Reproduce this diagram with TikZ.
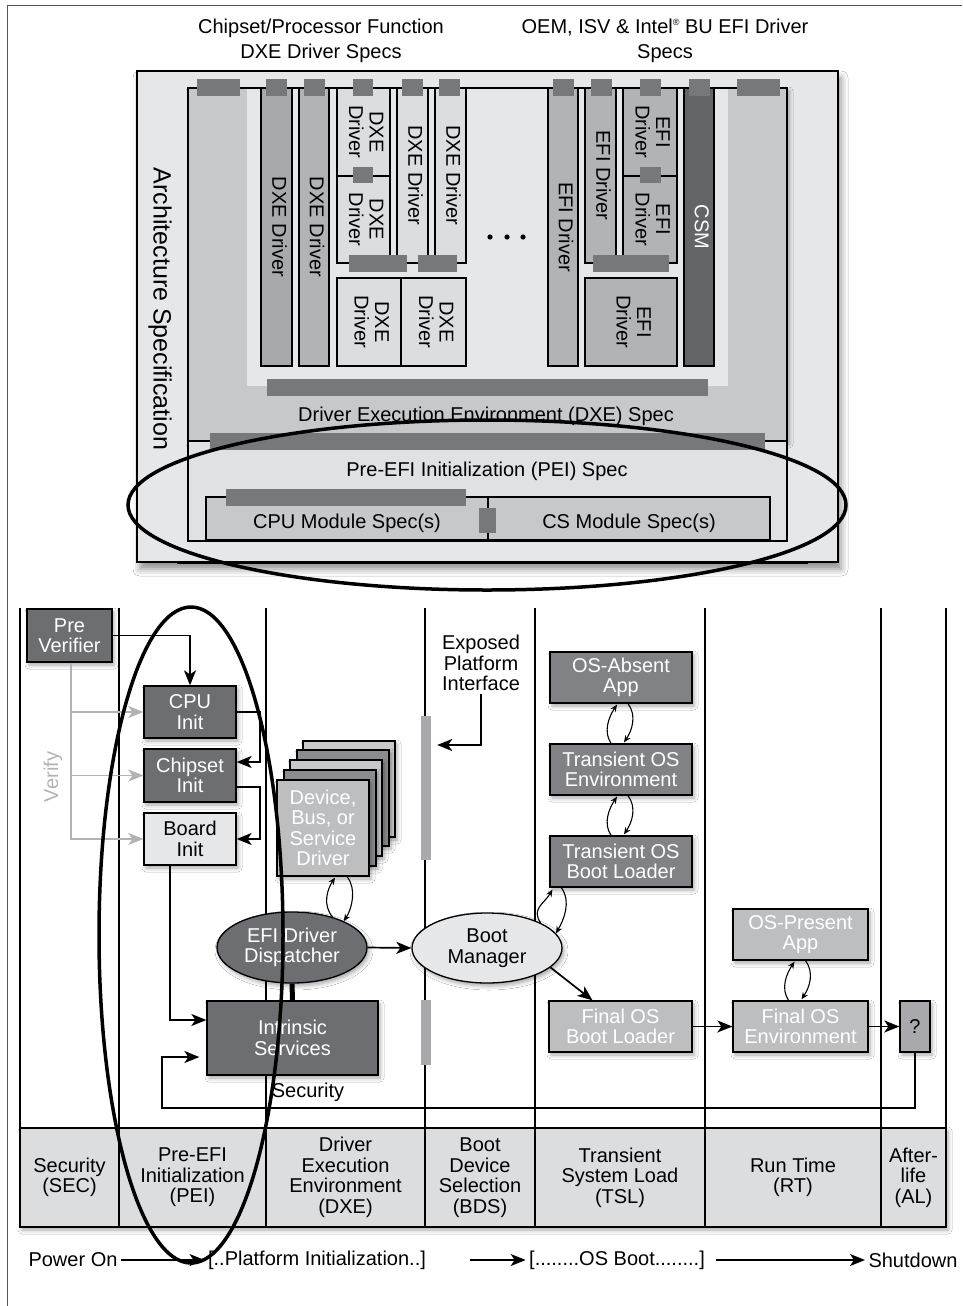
\documentclass[tikz,border=0pt]{standalone}
\usepackage{fontspec}
\setmainfont{Liberation Sans}
\usepackage{graphicx}
\usetikzlibrary{arrows.meta,shapes.geometric,calc,shadows.blur}
\definecolor{archbg}{HTML}{E6E7E8}
\definecolor{dxebg}{HTML}{C7C8CA}
\definecolor{peibg}{HTML}{E0E1E2}
\definecolor{bus}{HTML}{77787B}
\definecolor{gA}{HTML}{A7A9AC}
\definecolor{gB}{HTML}{B1B3B6}
\definecolor{gL}{HTML}{DCDDDF}
\definecolor{csmc}{HTML}{636466}
\definecolor{dk}{HTML}{6D6E71}
\definecolor{md}{HTML}{808285}
\definecolor{lt}{HTML}{BCBEC0}
\definecolor{stk}{HTML}{8A8C8E}
\definecolor{vgrey}{HTML}{B1B3B6}
\definecolor{framec}{HTML}{555555}
\newcommand\fs{\fontsize{20}{20.5}\selectfont}
\newcommand\fsbig{\fontsize{25}{28}\selectfont}
\newcommand\fscap{\fontsize{20}{25}\selectfont}
\newcommand\vt[1]{\rotatebox{-90}{\begin{tabular}{@{}c@{}}#1\end{tabular}}}
\newcommand\rbox[7]{%
  \pgfmathsetmacro\rbX{(#2+#4)/2}%
  \pgfmathsetmacro\rbY{(#3+#5)/2}%
  \pgfmathsetmacro\rbW{#4-#2}%
  \pgfmathsetmacro\rbH{#5-#3}%
  \node[inner sep=0pt, minimum width=\rbW pt, minimum height=\rbH pt, #6] (#1) at (\rbX,\rbY) {#7};%
}
\tikzset{
  shd/.style={blur shadow={shadow xshift=2pt, shadow yshift=-3pt, shadow blur radius=4pt, shadow opacity=35}},
  sbox/.style={draw=black, line width=1.2pt},
  nd/.style={draw=black, line width=1.3pt, align=center, shd},
  dark/.style={nd, fill=dk, text=white},
  mid/.style={nd, fill=md, text=white},
  light/.style={nd, fill=lt, text=white},
  pale/.style={nd, fill=archbg},
  arr/.style={line width=1.7pt, -{Stealth[length=15pt, width=12pt, inset=4pt]}},
  varr/.style={arr, draw=vgrey, -{Stealth[length=15pt, width=12pt, inset=4pt, fill=vgrey]}},
  sarr/.style={line width=1.1pt, -{Stealth[length=7pt, width=6pt]}},
  busbar/.style={fill=bus},
  col/.style={line width=1.8pt},
  ring/.style={line width=3.5pt}
}
\begin{document}
\begin{tikzpicture}[x=1pt, y=-1pt, every node/.style={font=\fs}]
\useasboundingbox (0,0) rectangle (962,1306);
\fill[white] (0,0) rectangle (962,1306);
% frame
\draw[line width=1pt, framec] (7,1306) -- (7,6) -- (962,6);

% ---------------- top: specification stack ----------------
\node[align=center, font=\fscap] (cap1) at (321,40.5) {Chipset/Processor Function\\DXE Driver Specs};
\node[align=center, font=\fscap] (cap2) at (665,40.5) {OEM, ISV \& Intel\raisebox{0.7ex}{\fontsize{9}{9}\selectfont ®} BU EFI Driver\\Specs};

\rbox{arch}{137}{71}{838}{562}{sbox, fill=archbg, blur shadow={shadow xshift=3pt, shadow yshift=-7pt, shadow blur radius=7pt, shadow opacity=45}}{}
\draw[line width=2.2pt] ($(arch.south west)+(41,0)$) -- ($(arch.south east)+(-31,0)$);
\node[rotate=-90, font=\fsbig] (archtxt) at (160,309) {Architecture Specification};

\rbox{dxe}{188}{88}{787}{441}{sbox, fill=dxebg, shd}{}
\fill[archbg] (247,88.7) rectangle (728,386);
\node (dxetxt) at (486,416) {Driver Execution Environment (DXE) Spec};
\rbox{pei}{188}{441}{787}{541}{sbox, fill=peibg}{}
\node (peitxt) at (487,471) {Pre-EFI Initialization (PEI) Spec};
\rbox{cpum}{206}{497}{488}{540}{sbox, fill=dxebg}{\raisebox{-9.5pt}[0pt][0pt]{CPU Module Spec(s)}}
\rbox{csmod}{488}{497}{770}{540}{sbox, fill=dxebg}{\raisebox{-9.5pt}[0pt][0pt]{CS Module Spec(s)}}

% drivers
\rbox{d1}{261}{88}{292}{366}{sbox, fill=gA}{\vt{DXE Driver}}
\rbox{d2}{299}{88}{329}{366}{sbox, fill=gB}{\vt{DXE Driver}}
\rbox{gD}{337}{88}{466}{263}{sbox, fill=archbg}{}
\rbox{d3a}{337}{88}{390}{176}{sbox, fill=gL}{\vt{DXE\\Driver}}
\rbox{d3b}{337}{176}{390}{263}{sbox, fill=gL}{\vt{DXE\\Driver}}
\rbox{d4}{397}{88}{428}{263}{sbox, fill=gL}{\vt{DXE Driver}}
\rbox{d5}{435}{88}{466}{263}{sbox, fill=gL}{\vt{DXE Driver}}
\rbox{d6}{337}{278}{401}{366}{sbox, fill=gL}{\vt{DXE\\Driver}}
\rbox{d7}{401}{278}{466}{366}{sbox, fill=gL}{\vt{DXE\\Driver}}
\rbox{e1}{548}{88}{578}{366}{sbox, fill=gB}{\vt{EFI Driver}}
\rbox{gE}{585}{88}{677}{263}{sbox, fill=archbg}{}
\rbox{e2}{585}{88}{616}{263}{sbox, fill=gB}{\vt{EFI Driver}}
\rbox{e3a}{623}{88}{677}{176}{sbox, fill=gB}{\vt{EFI\\Driver}}
\rbox{e3b}{623}{176}{677}{263}{sbox, fill=gB}{\vt{EFI\\Driver}}
\rbox{e4}{585}{278}{677}{366}{sbox, fill=gB}{\vt{EFI\\Driver}}
\rbox{csm}{684}{88}{714}{366}{sbox, fill=csmc, text=white}{\vt{CSM}}
\fill (490,237) circle (2.6pt) (507,237) circle (2.6pt) (523,237) circle (2.6pt);

% bus connectors
\foreach \a/\b in {197/240,266/287,304/325,353/373,402/423,439/460,553/574,591/612,640/661,689/710,737/780}
  \fill[busbar] (\a,79) rectangle (\b,96);
\foreach \a/\b in {353/373,640/661}
  \fill[busbar] (\a,167) rectangle (\b,183);
\foreach \a/\b in {349/407,418/457,593/669}
  \fill[busbar] (\a,255) rectangle (\b,272);
\fill[busbar] (267,379) rectangle (708,396);
\fill[busbar] (210,433) rectangle (765,450);
\fill[busbar] (226,489) rectangle (466,506);
\fill[busbar] (479,508) rectangle (496,533);

% ---------------- bottom: boot phases ----------------
\foreach \x in {20,119,266,425,535,705,881,946}
  \draw[col] (\x,608) -- (\x,1128);
\rbox{bdsbar}{421}{716}{431}{860}{fill=gA}{}
\rbox{bdsbar2}{421}{1000}{431}{1065}{fill=gA}{}

% phase row
\rbox{row}{20}{1128}{946}{1227}{shd, fill=gL}{}
\rbox{p1}{20}{1128}{119}{1227}{sbox, fill=gL, align=center}{Security\\(SEC)}
\rbox{p2}{119}{1128}{266}{1227}{sbox, fill=gL, align=center}{Pre-EFI\\Initialization\\(PEI)}
\rbox{p3}{266}{1128}{425}{1227}{sbox, fill=gL, align=center}{Driver\\Execution\\Environment\\(DXE)}
\rbox{p4}{425}{1128}{535}{1227}{sbox, fill=gL, align=center}{Boot\\Device\\Selection\\(BDS)}
\rbox{p5}{535}{1128}{705}{1227}{sbox, fill=gL, align=center}{Transient\\System Load\\(TSL)}
\rbox{p6}{705}{1128}{881}{1227}{sbox, fill=gL, align=center}{Run Time\\(RT)}
\rbox{p7}{881}{1128}{946}{1227}{sbox, fill=gL, align=center}{After-\\life\\(AL)}

% nodes
\rbox{prever}{27}{609}{112}{662}{dark}{Pre\\Verifier}
\rbox{cpu}{144}{686}{236}{738}{dark}{CPU\\Init}
\rbox{chip}{144}{749}{236}{802}{dark}{Chipset\\Init}
\rbox{board}{144}{813}{236}{865}{pale}{Board\\Init}
\rbox{dev4}{303}{741}{395}{837}{nd, fill=dxebg}{}
\rbox{dev3}{297}{750}{389}{846}{nd, fill=stk}{}
\rbox{dev2}{290}{760}{382}{856}{nd, fill=dxebg}{}
\rbox{dev1}{284}{770}{376}{866}{nd, fill=stk}{}
\rbox{dev0}{277}{780}{369}{876}{nd, fill=lt, text=white}{Device,\\Bus, or\\Service\\Driver}
\node[ellipse, dark, inner sep=0pt, minimum width=150pt, minimum height=71pt] (disp) at (292,947.5) {EFI Driver\\Dispatcher};
\node[ellipse, pale, inner sep=0pt, minimum width=150pt, minimum height=70pt] (bootmgr) at (487,948) {Boot\\Manager};
\rbox{intr}{207}{1001}{378}{1075}{dark}{Intrinsic\\Services}
\rbox{osabs}{550}{652}{692}{703}{mid}{OS-Absent\\App}
\rbox{tenv}{550}{744}{692}{795}{mid}{Transient OS\\Environment}
\rbox{tbl}{550}{836}{692}{887}{mid}{Transient OS\\Boot Loader}
\rbox{fobl}{549}{1001}{692}{1052}{light}{Final OS\\Boot Loader}
\rbox{fenv}{733}{1001}{868}{1052}{light}{Final OS\\Environment}
\rbox{osp}{733}{909}{868}{960}{light}{OS-Present\\App}
\rbox{q}{900}{1001}{930}{1052}{nd, fill=gA}{?}

\node[align=center] (expo) at (481,663) {Exposed\\Platform\\Interface};
\node[rotate=90, text=vgrey] (verify) at (53,777) {Verify};
\node (sec) at (308,1092) {Security};

% connectors
\draw[arr] (prever.east) -| (cpu.north);
\draw[varr] ($(prever.south)+(1.5,0)$) |- (cpu.west);
\draw[varr] ($(prever.south)+(1.5,0)$) |- (chip.west);
\draw[varr] ($(prever.south)+(1.5,0)$) |- (board.west);
\draw[arr] (cpu.east) -- ++(23,0) |- ($(chip.east)+(0,-13.5)$);
\draw[arr] ($(chip.east)+(0,11.5)$) -- ++(23,0) |- (board.east);
\draw[arr] ($(board.south)+(-20,0)$) |- ($(intr.west)+(0,-18)$);
\coordinate (ret) at (162,1108);
\draw[arr] (q.south) |- (ret) |- ($(intr.west)+(-7,19)$);
\draw[line width=5pt] (disp.south) -- (intr.north);
\draw[arr] (disp.east) -- (bootmgr.west);
\draw[arr] (bootmgr.-17) -- ($(fobl.north)+(-28,0)$);
\draw[arr] (fobl.east) -- (fenv.west);
\draw[arr] (fenv.east) -- (q.west);
\draw[arr] (expo.south) |- ($(bdsbar.east)+(6,-43)$);

% loops
\draw[sarr] (disp.37) .. controls +(-10,-12) and +(-8,12) .. ($(dev0.south)+(12,1)$);
\draw[sarr] ($(dev0.south)+(24,0)$) .. controls +(10,12) and +(8,-12) .. (disp.27);
\draw[sarr] ($(tenv.north)+(-10,0)$) .. controls +(-8,-12) and +(-8,12) .. ($(osabs.south)+(-4,1)$);
\draw[sarr] ($(osabs.south)+(7,0)$) .. controls +(9,12) and +(8,-12) .. ($(tenv.north)+(3,-1)$);
\draw[sarr] ($(tbl.north)+(-10,0)$) .. controls +(-8,-12) and +(-8,12) .. ($(tenv.south)+(-4,1)$);
\draw[sarr] ($(tenv.south)+(7,0)$) .. controls +(9,12) and +(8,-12) .. ($(tbl.north)+(3,-1)$);
\draw[sarr] ($(fenv.north)+(-12,0)$) .. controls +(-8,-12) and +(-8,12) .. ($(osp.south)+(-6,1)$);
\draw[sarr] ($(osp.south)+(5,0)$) .. controls +(9,12) and +(8,-12) .. ($(fenv.north)+(1,-1)$);
\draw[sarr] (bootmgr.25) .. controls +(-10,-14) and +(-8,14) .. ($(tbl.south west)+(3,2)$);
\draw[sarr] ($(tbl.south west)+(12,0)$) .. controls +(10,14) and +(8,-14) .. (bootmgr.12);

% timeline
\node (pon) at (73,1260) {Power On};
\node (plat) at (317,1260) {[..Platform Initialization..]};
\node (osb) at (617,1260) {[........OS Boot........]};
\node (shut) at (913,1260) {Shutdown};
\draw[arr] (pon.east) -- (plat.west);
\draw[arr] ($(plat.east)+(41,0)$) -- (osb.west);
\draw[arr] ($(osb.east)+(8,0)$) -- (shut.west);

% highlight rings
\draw[ring] (487,505) ellipse [x radius=359pt, y radius=85pt];
\draw[ring] (191,935) ellipse [x radius=92pt, y radius=328pt];
\end{tikzpicture}
\end{document}
